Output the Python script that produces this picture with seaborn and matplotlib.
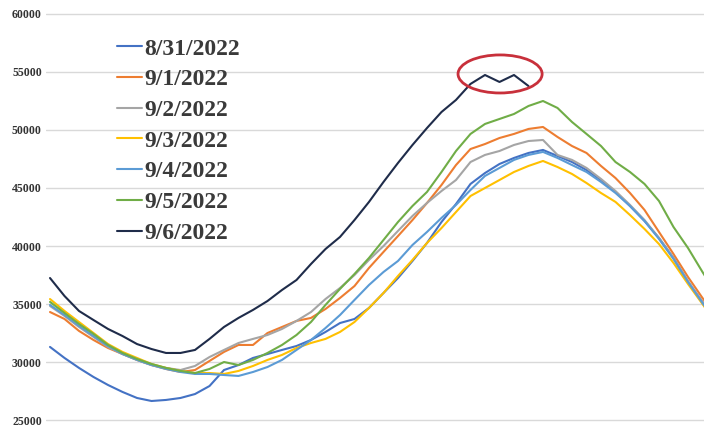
import numpy as np
import pandas as pd
import matplotlib
matplotlib.use("Agg")
import matplotlib.pyplot as plt
from matplotlib.patches import Ellipse
import seaborn as sns

# Half-hourly system load (MW), hour of day on the x axis
hours = [i * 0.5 for i in range(47)]

load_0831 = [31300, 30350, 29490, 28710, 28020, 27420, 26900, 26640, 26730, 26900,
             27240, 27930, 29310, 29740, 30350, 30690, 31040, 31380, 31900, 32590,
             33360, 33710, 34660, 35950, 37240, 38710, 40260, 42070, 43620, 45350,
             46290, 47070, 47590, 48020, 48280, 47760, 47240, 46550, 45690, 44660,
             43450, 42160, 40690, 38970, 36900, 35180, 33450]
load_0901 = [34310, 33710, 32680, 31900, 31210, 30690, 30180, 29740, 29400, 29140,
             29310, 30090, 30870, 31470, 31470, 32500, 33020, 33540, 33800, 34570,
             35520, 36550, 38110, 39490, 40860, 42240, 43710, 45260, 46980, 48360,
             48790, 49310, 49660, 50090, 50260, 49400, 48620, 48020, 46900, 45860,
             44570, 43110, 41210, 39310, 37330, 35520, 33800]
load_0902 = [34830, 33970, 33020, 32160, 31300, 30690, 30180, 29740, 29490, 29310,
             29660, 30430, 31040, 31640, 31990, 32330, 32850, 33540, 34310, 35430,
             36380, 37500, 38800, 40000, 41300, 42590, 43710, 44740, 45690, 47240,
             47850, 48190, 48710, 49050, 49140, 47850, 47420, 46730, 45780, 44740,
             43540, 42240, 40690, 38970, 36990, 35180, 33450]
load_0903 = [35430, 34400, 33450, 32500, 31550, 30870, 30350, 29830, 29490, 29230,
             29050, 29050, 28970, 29230, 29660, 30180, 30610, 31210, 31640, 31990,
             32590, 33450, 34660, 35950, 37420, 38800, 40260, 41550, 42930, 44310,
             45000, 45690, 46380, 46900, 47330, 46810, 46210, 45430, 44570, 43800,
             42670, 41470, 40170, 38540, 36730, 35000, 33190]
load_0904 = [34920, 34050, 33110, 32240, 31380, 30690, 30180, 29740, 29400, 29140,
             28970, 28970, 28880, 28800, 29140, 29570, 30180, 31040, 31900, 32930,
             34050, 35350, 36640, 37760, 38710, 40090, 41210, 42420, 43540, 44830,
             46040, 46730, 47420, 47850, 48110, 47590, 46980, 46380, 45520, 44570,
             43450, 42160, 40610, 38880, 36900, 35090, 33360]
load_0905 = [35180, 34230, 33280, 32420, 31470, 30780, 30260, 29830, 29490, 29230,
             29050, 29400, 30000, 29740, 30180, 30780, 31470, 32330, 33450, 34920,
             36300, 37590, 38970, 40520, 42070, 43450, 44660, 46380, 48190, 49660,
             50520, 50950, 51380, 52070, 52500, 51900, 50690, 49660, 48620, 47240,
             46380, 45350, 43880, 41640, 39830, 37760, 35780]
load_0906 = [37240, 35690, 34400, 33620, 32850, 32240, 31550, 31120, 30780, 30780,
             31040, 31990, 33020, 33800, 34490, 35260, 36210, 37070, 38450, 39740,
             40780, 42240, 43800, 45520, 47160, 48710, 50170, 51550, 52590, 53970,
             54740, 54140, 54740, 53790] + [np.nan] * 13

dates = ["8/31/2022", "9/1/2022", "9/2/2022", "9/3/2022",
         "9/4/2022", "9/5/2022", "9/6/2022"]
colors = ["#4472C4", "#ED7D31", "#A5A5A5", "#FFC000",
          "#5B9BD5", "#70AD47", "#1F2C4A"]
y_ticks = [25000, 30000, 35000, 40000, 45000, 50000, 55000, 60000]

series = [load_0831, load_0901, load_0902, load_0903, load_0904, load_0905, load_0906]
frames = [pd.DataFrame({"hour": hours, "load": vals, "date": d})
          for d, vals in zip(dates, series)]
df = pd.concat(frames, ignore_index=True).dropna()

sns.set_style("white")
W, H = 704, 426
fig = plt.figure(figsize=(W / 100, H / 100), dpi=100)
ax = fig.add_axes([46 / W, (H - 423.5) / H, (W - 46) / W, 413 / H])

sns.lineplot(data=df, x="hour", y="load", hue="date", hue_order=dates,
             palette=colors, linewidth=1.5, sort=False, ax=ax)

ax.set_xlim(-0.138, 22.552)
ax.set_ylim(24700, 60300)
ax.set_yticks(y_ticks)
ax.set_yticklabels([str(t) for t in y_ticks], fontfamily="Liberation Serif",
                   fontsize=8.5, fontweight="bold", color="#333333")
ax.set_xticks([])
ax.tick_params(axis="y", length=0, pad=3)
ax.set_xlabel("")
ax.set_ylabel("")
ax.yaxis.grid(True, color="#D9D9D9", linewidth=1.0)
ax.set_axisbelow(True)
for s in ax.spines.values():
    s.set_visible(False)

# Highlight the 9/6 peak
ax.add_patch(Ellipse((15.52, 54830), width=2.9, height=3280, fill=False,
                     edgecolor="#C8303B", linewidth=2.0, zorder=5))

handles, labels = ax.get_legend_handles_labels()
ax.legend(handles, labels, loc="upper left",
          bbox_to_anchor=(117 / W, 1 - 38 / H), bbox_transform=fig.transFigure,
          frameon=False, borderpad=0, borderaxespad=0,
          handlelength=1.05, handletextpad=0.12, labelspacing=0.39,
          prop={"family": "Liberation Serif", "size": 17, "weight": "bold"},
          labelcolor="#3A3A3A")

fig.savefig("out.png", dpi=100)
